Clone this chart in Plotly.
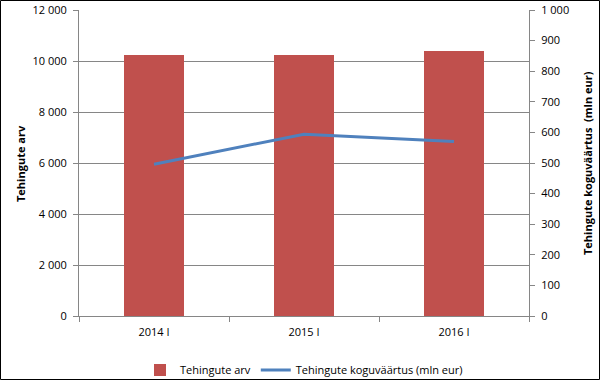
import plotly.graph_objects as go

categories = ["2014 I", "2015 I", "2016 I"]
tehingute_arv = [10235, 10235, 10390]
koguvaartus = [496, 594, 570]

W, H = 600, 380
L, R, T, B = 79, 71, 10, 64
pw, ph = W - L - R, H - T - B

def px(x):
    return (x - L) / pw

def py(y):
    return (H - B - y) / ph

fig = go.Figure()
fig.add_trace(go.Bar(x=categories, y=tehingute_arv, name="Tehingute arv",
                     marker=dict(color="#C0504D", line=dict(width=0)), width=0.4))
fig.add_trace(go.Scatter(x=categories, y=koguvaartus, name="Tehingute koguväärtus (mln eur)",
                         mode="lines", line=dict(color="#4F81BD", width=3), yaxis="y2"))

font = "Open Sans, sans-serif"
fig.update_layout(
    width=W, height=H, margin=dict(l=L, r=R, t=T, b=B, autoexpand=False),
    paper_bgcolor="white", plot_bgcolor="white",
    separators=". ",
    font=dict(family=font, size=11, color="#000"),
    showlegend=True,
    legend=dict(orientation="h", x=0.5, xanchor="center", y=py(370), yanchor="middle",
                font=dict(size=11), traceorder="normal", bgcolor="rgba(0,0,0,0)"),
    xaxis=dict(type="category", showline=True, linecolor="#868686", linewidth=1,
               ticks="outside", tickson="boundaries", ticklen=5, tickcolor="#868686",
               showgrid=False, tickfont=dict(size=11), automargin=False, ticklabelstandoff=6),
    yaxis=dict(range=[0, 12000], dtick=2000, tickformat=",d", showline=True, linecolor="#868686",
               ticks="outside", ticklen=5, tickcolor="#868686", gridcolor="#868686", gridwidth=1,
               zeroline=False, automargin=False, ticklabelstandoff=4),
    yaxis2=dict(range=[0, 1000], dtick=100, tickformat=",d", overlaying="y", side="right",
                showline=True, linecolor="#868686", ticks="outside", ticklen=5, tickcolor="#868686",
                showgrid=False, zeroline=False, automargin=False, ticklabelstandoff=4),
    annotations=[
        dict(text="<b>Tehingute arv</b>", xref="paper", yref="paper", x=px(20), y=py(163),
             textangle=-90, showarrow=False, xanchor="center", yanchor="middle", font=dict(size=11)),
        dict(text="<b>Tehingute koguväärtus  (mln eur)</b>", xref="paper", yref="paper", x=px(587), y=py(163),
             textangle=-90, showarrow=False, xanchor="center", yanchor="middle", font=dict(size=11)),
    ],
    shapes=[dict(type="rect", xref="paper", yref="paper",
                 x0=px(0.5), x1=px(W - 0.5), y0=py(H - 0.5), y1=py(0.5),
                 line=dict(color="black", width=1), fillcolor="rgba(0,0,0,0)", layer="above")],
)
fig.write_html("out.html", config={"displayModeBar": False},
               post_script="document.body.style.margin='0';document.body.style.overflow='hidden';")
